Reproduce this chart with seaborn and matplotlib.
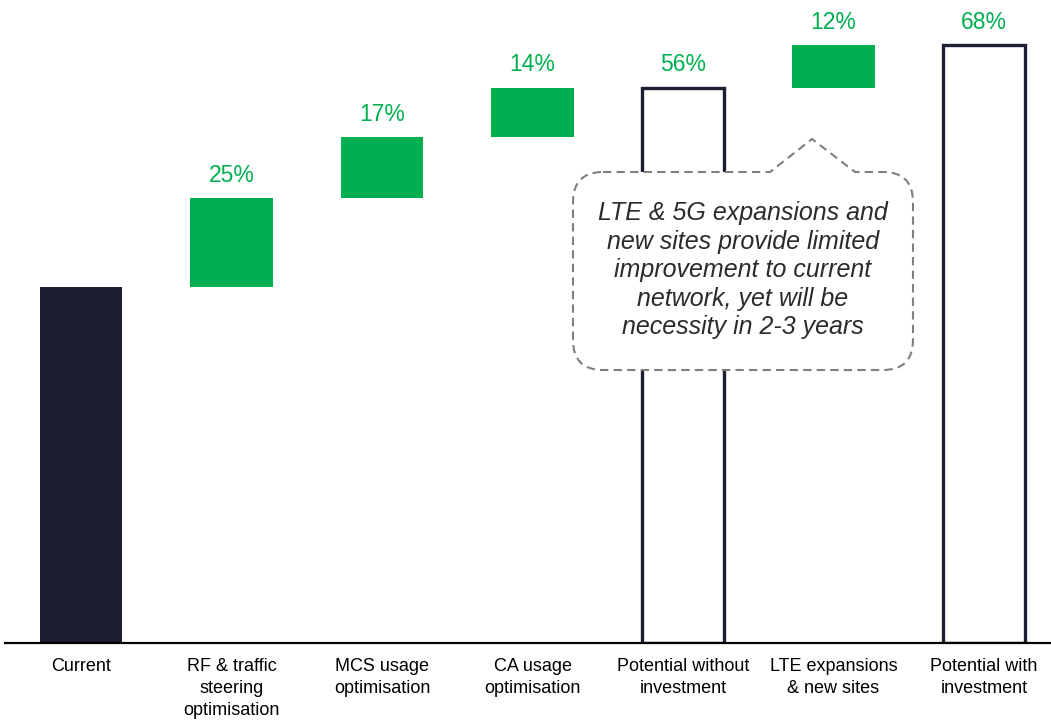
import matplotlib
matplotlib.use("Agg")
import matplotlib.pyplot as plt
from matplotlib.path import Path
from matplotlib.patches import PathPatch
import seaborn as sns
import pandas as pd

sns.set_theme(style="white")
plt.rcParams["font.family"] = ["Liberation Sans", "DejaVu Sans"]

# --- data ---------------------------------------------------------------------
categories = [
    "Current",
    "RF & traffic\nsteering\noptimisation",
    "MCS usage\noptimisation",
    "CA usage\noptimisation",
    "Potential without\ninvestment",
    "LTE expansions\n& new sites",
    "Potential with\ninvestment",
]
kinds = ["base", "step", "step", "step", "total", "step", "total"]
steps = [100, 25, 17, 14, 0, 12, 0]
pct_labels = ["", "25%", "17%", "14%", "56%", "12%", "68%"]
callout_text = ("LTE & 5G expansions and\nnew sites provide limited\n"
                "improvement to current\nnetwork, yet will be\nnecessity in 2-3 years")

NAVY = "#1c1e32"
GREEN = "#00b050"

# running waterfall
bottoms, spans, running = [], [], 0
for k, s in zip(kinds, steps):
    if k == "total":
        bottoms.append(0)
        spans.append(running)
    else:
        bottoms.append(running)
        spans.append(s)
        running += s

df = pd.DataFrame({"category": categories, "span": spans})

# --- plot ---------------------------------------------------------------------
fig = plt.figure(figsize=(10.51, 7.21), dpi=100)
ax = fig.add_axes([5 / 1051, 78 / 721, 1046 / 1051, 643 / 721])

sns.barplot(data=df, x="category", y="span", order=categories,
            color=GREEN, width=0.55, ax=ax)

for patch, b, k in zip(ax.patches, bottoms, kinds):
    patch.set_y(b)
    if k == "base":
        patch.set_facecolor(NAVY)
        patch.set_edgecolor(NAVY)
        patch.set_linewidth(0)
    elif k == "total":
        patch.set_facecolor("white")
        patch.set_edgecolor(NAVY)
        patch.set_linewidth(2.4)
    else:
        patch.set_facecolor(GREEN)
        patch.set_edgecolor(GREEN)
        patch.set_linewidth(0)

for i, (lab, b, s) in enumerate(zip(pct_labels, bottoms, spans)):
    if lab:
        ax.annotate(lab, (i, b + s), xytext=(0, 8), textcoords="offset points",
                    ha="center", va="bottom", fontsize=16.5, color=GREEN)

ax.set_xlim(-0.505, 6.445)
ax.set_ylim(0, 180.6)
ax.set_xlabel("")
ax.set_ylabel("")
ax.set_yticks([])
ax.tick_params(axis="x", length=0, labelsize=13, pad=11, colors="black")
for lbl in ax.get_xticklabels():
    lbl.set_linespacing(1.37)
    lbl.set_verticalalignment("top")
for side in ["top", "left", "right"]:
    ax.spines[side].set_visible(False)
ax.spines["bottom"].set_color("black")
ax.spines["bottom"].set_linewidth(1.6)

# --- callout bubble (display pixels) -----------------------------------------
L, R, T, B, r = 573, 913, 721 - 172, 721 - 370, 30
nx0, nx1, tipx, tipy = 770, 855, 812, 721 - 139
verts = [
    (L + r, T), (nx0, T), (tipx, tipy), (nx1, T), (R - r, T),
    (R, T), (R, T - r),
    (R, B + r),
    (R, B), (R - r, B),
    (L + r, B),
    (L, B), (L, B + r),
    (L, T - r),
    (L, T), (L + r, T),
    (L + r, T),
]
codes = [Path.MOVETO, Path.LINETO, Path.LINETO, Path.LINETO, Path.LINETO,
         Path.CURVE3, Path.CURVE3,
         Path.LINETO,
         Path.CURVE3, Path.CURVE3,
         Path.LINETO,
         Path.CURVE3, Path.CURVE3,
         Path.LINETO,
         Path.CURVE3, Path.CURVE3,
         Path.CLOSEPOLY]
bubble = PathPatch(Path(verts, codes), facecolor="white", edgecolor="#7f7f7f",
                   linewidth=1.5, linestyle=(0, (4, 2.5)), transform=None, zorder=5)
fig.patches.append(bubble)
bubble.set_figure(fig)

fig.text((L + R) / 2 / 1051, (T + B) / 2 / 721 + 0.001, callout_text,
         ha="center", va="center", fontsize=18, style="italic",
         color="#2b2b2b", linespacing=1.24, zorder=6)

plt.savefig("out.png", dpi=100)
